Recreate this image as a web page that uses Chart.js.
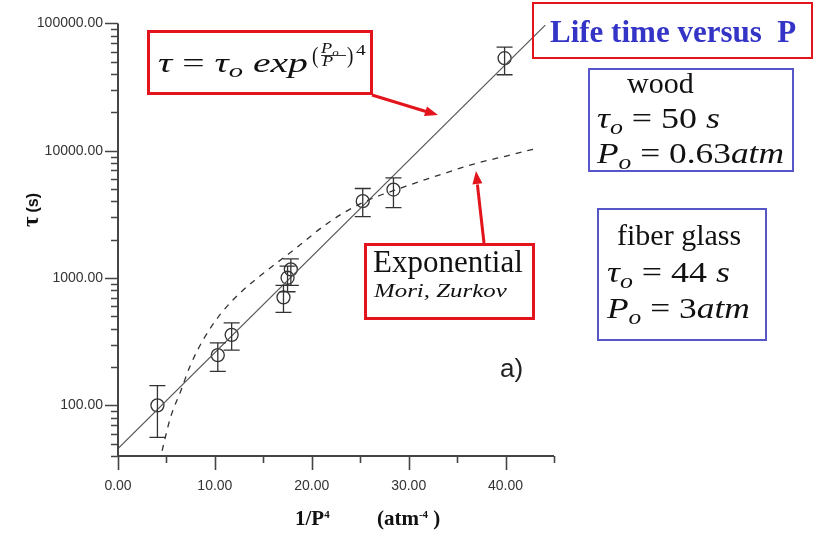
<!DOCTYPE html>
<html>
<head>
<meta charset="utf-8">
<script src="https://cdn.jsdelivr.net/npm/chart.js@4.4.1/dist/chart.umd.min.js"></script>
<style>
html,body{margin:0;padding:0;background:#fff;}
#wrap{position:relative;width:825px;height:537px;overflow:hidden;background:#fff;}
#c{position:absolute;left:0;top:0;}
.box{position:absolute;box-sizing:border-box;}
.red3{border:3px solid #e3141b;}
.red2{border:2px solid #e3141b;}
.blue{border:2px solid #5656c8;}
.tx{position:absolute;white-space:nowrap;line-height:1;font-family:"Liberation Serif","DejaVu Serif",serif;color:#111;transform-origin:0 0;}
.sb{position:relative;top:0.28em;font-size:0.72em;font-style:italic;}
.sp{position:relative;top:-0.62em;font-size:0.52em;}
.fbar{position:absolute;height:1px;background:#333;}
#arrows{position:absolute;left:0;top:0;}
#ytitle{position:absolute;left:31px;top:210px;transform:translate(-50%,-50%) rotate(-90deg);white-space:nowrap;font-weight:bold;color:#111;}
</style>
</head>
<body>
<div id="wrap">
<canvas id="c" width="825" height="537"></canvas>

<!-- power-law formula -->
<div class="box red3" style="left:147px;top:30px;width:226px;height:65px"></div>
<div class="tx" data-x="158" data-b="72" style="font-size:27px;transform:scaleX(1.47)"><i>τ</i> = <i>τ</i><span class="sb">o</span> <i>exp</i></div>
<div class="tx" data-x="312" data-b="63" style="font-size:24px;transform:scaleX(0.8)">(</div>
<div class="tx" data-x="321" data-b="53" style="font-size:14px;transform:scaleX(1.3)"><i>P</i><span class="sb">o</span></div>
<div class="fbar" style="left:321px;top:55px;width:25px"></div>
<div class="tx" data-x="322" data-b="66" style="font-size:14px;transform:scaleX(1.3)"><i>P</i></div>
<div class="tx" data-x="347" data-b="63" style="font-size:24px;transform:scaleX(0.8)">)</div>
<div class="tx" data-x="356" data-b="55" style="font-size:15px;transform:scaleX(1.3)">4</div>

<!-- title -->
<div class="box red2" style="left:532px;top:2px;width:281px;height:57px"></div>
<div class="tx" data-x="550" data-b="42" style="font-size:31px;font-weight:bold;color:#3434c6">Life time versus&nbsp; P</div>

<!-- wood parameters -->
<div class="box blue" style="left:588px;top:68px;width:206px;height:104px"></div>
<div class="tx" data-x="627" data-b="93" style="font-size:30px">wood</div>
<div class="tx" data-x="597" data-b="128" style="font-size:29px;transform:scaleX(1.24)"><i>τ</i><span class="sb">o</span> = 50 <i>s</i></div>
<div class="tx" data-x="597" data-b="163" style="font-size:29px;transform:scaleX(1.22)"><i>P</i><span class="sb">o</span> = 0.63<i>atm</i></div>

<!-- fiber glass parameters -->
<div class="box blue" style="left:597px;top:208px;width:170px;height:133px"></div>
<div class="tx" data-x="617" data-b="245" style="font-size:30px">fiber glass</div>
<div class="tx" data-x="607" data-b="282" style="font-size:29px;transform:scaleX(1.24)"><i>τ</i><span class="sb">o</span> = 44 <i>s</i></div>
<div class="tx" data-x="607" data-b="318" style="font-size:29px;transform:scaleX(1.22)"><i>P</i><span class="sb">o</span> = 3<i>atm</i></div>

<!-- exponential model -->
<div class="box red3" style="left:364px;top:243px;width:171px;height:77px"></div>
<div class="tx" data-x="373" data-b="272" style="font-size:31px">Exponential</div>
<div class="tx" data-x="374" data-b="297" style="font-size:19px;font-style:italic;transform:scaleX(1.31)">Mori, Zurkov</div>

<div class="tx" data-x="500" data-b="377" style="font-size:26px;font-family:'Liberation Sans',Arial,sans-serif;color:#222">a)</div>

<!-- axis titles -->
<div class="tx" data-x="295" data-b="525" style="font-size:21px;font-weight:bold">1/P<span class="sp">4</span></div>
<div class="tx" data-x="377" data-b="525" style="font-size:21px;font-weight:bold">(atm<span class="sp">-4</span> )</div>
<div id="ytitle"><span style="font-family:'Liberation Serif',serif;font-size:23px">τ</span> <span style="font-family:'Liberation Sans',sans-serif;font-size:16px">(s)</span></div>

<svg id="arrows" width="825" height="537">
  <line x1="372" y1="95" x2="426" y2="111.5" stroke="#e3141b" stroke-width="3"/>
  <polygon points="438,115 424,116 427,106.4" fill="#e3141b"/>
  <line x1="484" y1="243" x2="477.4" y2="184.5" stroke="#e3141b" stroke-width="3"/>
  <polygon points="476,171 482.4,183.3 472.4,184.5" fill="#e3141b"/>
</svg>
</div>

<script>
// Inverse fourth power of pressure, 1/P^4 (atm^-4), and measured life time (s)
const pressureInv = [4.07, 10.3, 11.73, 17.08, 17.5, 17.84, 25.26, 28.43, 39.9];
const lifetime    = [100, 248, 358, 705, 1005, 1170, 4017, 4955, 53300];
const lifetimeLow = [56, 185, 271, 538, 780, 877, 3040, 3570, 39500];
const lifetimeHigh= [143, 310, 444, 877, 1240, 1416, 5050, 6110, 65000];

// Power-law fit (straight on the log axis)
const fitX = [0, 44.1];
const fitY = [45.7, 96900];

// Exponential model (Mori, Zurkov)
const expX = [4.55, 5.41, 6.45, 7.48, 8.86, 10.59, 12.66, 15.07, 18.18, 21.64, 25.08, 29.74, 33.36, 36.81, 40.27, 43.37];
const expY = [44, 80, 128, 207, 334, 522, 771, 1100, 1671, 2697, 3858, 5260, 6520, 7890, 9160, 10510];

// Axis ticks
const xTicks = [0, 10, 20, 30, 40];
const xMinorTicks = [5, 15, 25, 35, 45];
const yTicks = [100, 1000, 10000, 100000];
const yMinorTicks = [];
for (let d = 10; d < 100000; d *= 10) {
  for (let k = 2; k <= 9; k++) if (k * d >= 40) yMinorTicks.push(k * d);
}

const AXIS = '#444';
const INK = '#333';

const frame = {
  id: 'frame',
  afterDatasetsDraw(chart) {
    const { ctx, scales: { x, y } } = chart;
    ctx.save();
    // error bars
    ctx.strokeStyle = INK;
    ctx.lineWidth = 1.3;
    pressureInv.forEach((v, i) => {
      const px = x.getPixelForValue(v);
      const lo = y.getPixelForValue(lifetimeLow[i]);
      const hi = y.getPixelForValue(lifetimeHigh[i]);
      ctx.beginPath();
      ctx.moveTo(px, lo); ctx.lineTo(px, hi);
      ctx.moveTo(px - 8, lo); ctx.lineTo(px + 8, lo);
      ctx.moveTo(px - 8, hi); ctx.lineTo(px + 8, hi);
      ctx.stroke();
    });
    // axis lines
    const x0 = x.left, yb = y.bottom;
    ctx.strokeStyle = AXIS;
    ctx.lineWidth = 2;
    ctx.beginPath();
    ctx.moveTo(x0, y.top); ctx.lineTo(x0, yb + 1);
    ctx.moveTo(x0 - 1, yb); ctx.lineTo(x.right, yb);
    ctx.stroke();
    // tick marks
    ctx.lineWidth = 1.6;
    ctx.beginPath();
    yTicks.forEach(v => { const p = Math.round(y.getPixelForValue(v)) + 0.5; ctx.moveTo(x0 - 13, p); ctx.lineTo(x0, p); });
    yMinorTicks.forEach(v => { const p = Math.round(y.getPixelForValue(v)) + 0.5; ctx.moveTo(x0 - 7, p); ctx.lineTo(x0, p); });
    xTicks.forEach(v => { const p = Math.round(x.getPixelForValue(v)) + 0.5; ctx.moveTo(p, yb); ctx.lineTo(p, yb + 14); });
    xMinorTicks.forEach(v => { const p = Math.round(x.getPixelForValue(v)) + 0.5; ctx.moveTo(p, yb); ctx.lineTo(p, yb + 7); });
    ctx.stroke();
    ctx.restore();
  }
};

new Chart(document.getElementById('c'), {
  type: 'scatter',
  data: {
    datasets: [
      {
        label: 'exponential',
        data: expX.map((v, i) => ({ x: v, y: expY[i] })),
        showLine: true,
        borderColor: INK,
        borderWidth: 1.3,
        borderDash: [6, 6],
        pointRadius: 0,
        cubicInterpolationMode: 'monotone'
      },
      {
        label: 'fit',
        data: fitX.map((v, i) => ({ x: v, y: fitY[i] })),
        showLine: true,
        borderColor: '#555',
        borderWidth: 1.2,
        pointRadius: 0
      },
      {
        label: 'measured',
        data: pressureInv.map((v, i) => ({ x: v, y: lifetime[i] })),
        pointStyle: 'circle',
        pointRadius: 6.5,
        pointBorderWidth: 1.3,
        pointBorderColor: INK,
        pointBackgroundColor: 'rgba(0,0,0,0)'
      }
    ]
  },
  options: {
    responsive: false,
    animation: false,
    devicePixelRatio: 1,
    layout: { padding: { top: 18, right: 271, bottom: 0, left: 0 } },
    plugins: { legend: { display: false }, tooltip: { enabled: false } },
    scales: {
      x: {
        type: 'linear',
        min: 0, max: 45,
        grid: { display: false, drawTicks: false },
        border: { display: false },
        afterBuildTicks: s => { s.ticks = xTicks.map(v => ({ value: v })); },
        afterFit: s => { s.height = 81; },
        ticks: {
          padding: 22,
          maxRotation: 0,
          color: INK,
          font: { family: "'Liberation Sans', Arial, sans-serif", size: 14 },
          callback: v => Number(v).toFixed(2)
        }
      },
      y: {
        type: 'logarithmic',
        min: 40, max: 100000,
        grid: { display: false, drawTicks: false },
        border: { display: false },
        afterBuildTicks: s => { s.ticks = yTicks.map(v => ({ value: v })); },
        afterFit: s => { s.width = 118; },
        ticks: {
          padding: 15,
          color: INK,
          font: { family: "'Liberation Sans', Arial, sans-serif", size: 14 },
          callback: v => Number(v).toFixed(2)
        }
      }
    }
  },
  plugins: [frame]
});

// place each text block so its baseline sits at data-b
document.querySelectorAll('.tx').forEach(el => {
  const m = document.createElement('span');
  m.style.cssText = 'display:inline-block;width:0;height:0;vertical-align:baseline';
  el.appendChild(m);
  el.style.left = el.dataset.x + 'px';
  el.style.top = '0px';
  el.style.top = (Number(el.dataset.b) - m.offsetTop) + 'px';
});
</script>
</body>
</html>
